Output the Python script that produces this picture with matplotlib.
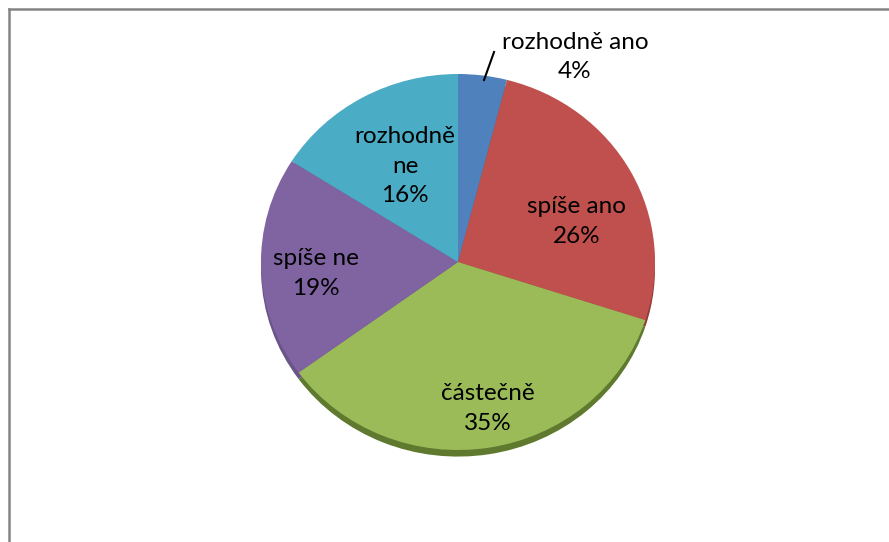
import matplotlib.pyplot as plt
from matplotlib.lines import Line2D
import numpy as np

plt.rcParams['font.family'] = ['Lato', 'DejaVu Sans']

# data
labels = ['rozhodně ano', 'spíše ano', 'částečně', 'spíše ne', 'rozhodně\nne']
shares = [4, 26, 35, 19, 16]
colors = ['#4f81bd', '#c0504d', '#9bbb59', '#8064a2', '#4bacc6']
sides = ['#3a6296', '#8f3a38', '#5f7a2e', '#6a5488', '#357f94']

# label spots in pie units (x, y)
label_pos = [(0.594, 1.09), (0.604, 0.215), (0.152, -0.78), (-0.721, -0.06), (-0.269, 0.51)]

fig = plt.figure(figsize=(8.89, 5.42), dpi=100)
ax = fig.add_axes([0, 0, 1, 1])

# slightly squashed 3d look: darker rim under the top face
ax.pie(shares, colors=sides, startangle=90, counterclock=False, center=(0, -0.035),
       wedgeprops=dict(linewidth=0))
wedges, _ = ax.pie(shares, colors=colors, startangle=90, counterclock=False,
                   wedgeprops=dict(linewidth=0))

ax.set_aspect('auto')
rx, ry = 197, 188
cx, cy = 458, 262
ax.set_xlim(-cx / rx, (889 - cx) / rx)
ax.set_ylim(-(542 - cy) / ry, cy / ry)
ax.axis('off')

for lab, val, (x, y) in zip(labels, shares, label_pos):
    ax.text(x, y, f'{lab}\n{val}%', ha='center', va='center', fontsize=17.5,
            linespacing=1.5, color='black')

# leader line for the small slice
ax.plot([0.132, 0.183], [0.968, 1.117], color='black', lw=1.5)

# chart frame (only top and left edges fall inside the image)
fx, fy = 8.5 / 889, 1 - 8.5 / 542
fig.add_artist(Line2D([fx, fx], [0, fy], color='#858585', lw=1.8, transform=fig.transFigure))
fig.add_artist(Line2D([fx, 1], [fy, fy], color='#858585', lw=1.8, transform=fig.transFigure))

fig.savefig('out.png', dpi=100)
